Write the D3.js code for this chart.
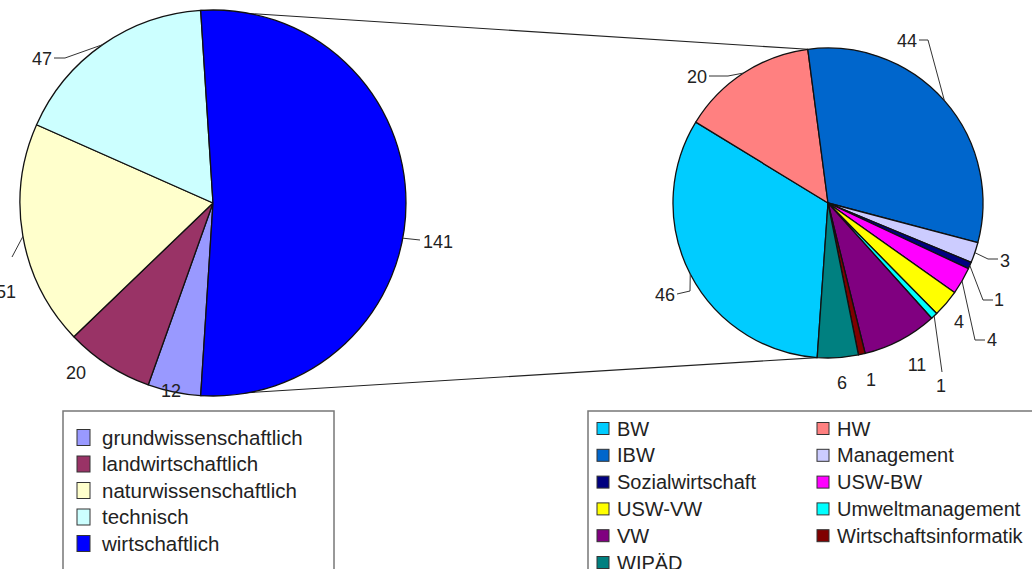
<!DOCTYPE html>
<html>
<head>
<meta charset="utf-8">
<script src="https://cdn.jsdelivr.net/npm/d3@7/dist/d3.min.js"></script>
<style>
body{margin:0;background:#fff;}
text{font-family:Arial,"Liberation Sans",sans-serif;fill:#222;}
</style>
</head>
<body>
<svg id="chart"></svg>
<script>
// first pie
var mainCategories = ["grundwissenschaftlich","landwirtschaftlich","naturwissenschaftlich","technisch","wirtschaftlich"]
var mainValues = [12,20,51,47,141]
var mainColors = ["#9999ff","#993366","#ffffcc","#ccffff","#0000ff"]

// second pie, wirtschaftlich split up
var subCategories = ["BW","HW","IBW","Management","Sozialwirtschaft","USW-BW","USW-VW","Umweltmanagement","VW","Wirtschaftsinformatik","WIPÄD"]
var subValues = [46,20,44,3,1,4,4,1,11,1,6]
var subColors = ["#00ccff","#ff8080","#0066cc","#ccccff","#000080","#ff00ff","#ffff00","#00ffff","#800080","#800000","#008080"]

var screen = {width:1032,height:569}
var deg = Math.PI/180

// where the two pies sit
var mainPie = {cx:213,cy:203,r:193}
var subPie = {cx:828,cy:203,r:155}

// label placement, relative to pie centre (lead = leader line points)
var mainLabelPos = [
    {x:-42,y:188,anchor:"middle"},
    {x:-137,y:170,anchor:"middle"},
    {x:-197,y:89,anchor:"end",lead:[[-201,54]]},
    {x:-161,y:-144,anchor:"end",lead:[[-148,-145],[-159,-145]]},
    {x:210,y:39,anchor:"start",at:100.5,lead:[[207,37]]}
]
var subLabelPos = [
    {x:-153,y:92,anchor:"end",lead:[[-138,88],[-151,91]]},
    {x:-121,y:-126,anchor:"end",lead:[[-100,-127],[-119,-127]]},
    {x:89,y:-162,anchor:"end",lead:[[100,-163],[91,-163]]},
    {x:172,y:58,anchor:"start",lead:[[160,56],[170,56]]},
    {x:171,y:97,anchor:"middle",lead:[[155,97],[165,97]]},
    {x:164,y:137,anchor:"middle",lead:[[147,137],[157,137]]},
    {x:131,y:119,anchor:"middle"},
    {x:113,y:183,anchor:"middle",lead:[[114,169]]},
    {x:89,y:162,anchor:"middle"},
    {x:43,y:177,anchor:"middle"},
    {x:14,y:180,anchor:"middle"}
]

var svg = d3.select("#chart")
    .attr("width",screen.width)
    .attr("height",screen.height)

var polar = function(p,a,r){
    return [p.cx+Math.sin(a)*r, p.cy-Math.cos(a)*r]
}

// the split slice is centred on the right side of the first pie
var wirtShare = mainValues[4]/d3.sum(mainValues)
var mainStart = Math.PI/2 + wirtShare*Math.PI
var mainArcs = d3.pie().sort(null)
    .startAngle(mainStart).endAngle(mainStart+2*Math.PI)(mainValues)

var subStart = 184*deg
var subArcs = d3.pie().sort(null)
    .startAngle(subStart).endAngle(subStart+2*Math.PI)(subValues)

var mainColor = d3.scaleOrdinal().domain(mainCategories).range(mainColors)
var subColor = d3.scaleOrdinal().domain(subCategories).range(subColors)

//connector lines between the pies
var connectors = [
    [polar(mainPie,mainArcs[4].startAngle,mainPie.r), polar(subPie,subArcs[2].startAngle,subPie.r)],
    [polar(mainPie,mainArcs[4].endAngle,mainPie.r), polar(subPie,subArcs[0].startAngle,subPie.r)]
]
svg.append("g").selectAll("line")
    .data(connectors)
    .enter()
    .append("line")
    .attr("x1",function(d){return d[0][0]})
    .attr("y1",function(d){return d[0][1]})
    .attr("x2",function(d){return d[1][0]})
    .attr("y2",function(d){return d[1][1]})
    .attr("stroke","#222")
    .attr("stroke-width",1.1)

var drawPie = function(p,arcs,cats,color,labelPos){
    var arc = d3.arc().innerRadius(0).outerRadius(p.r)
    var g = svg.append("g")
        .attr("transform","translate("+p.cx+","+p.cy+")")

    g.selectAll("path")
        .data(arcs)
        .enter()
        .append("path")
        .attr("d",arc)
        .attr("fill",function(d,i){return color(cats[i])})
        .attr("stroke","#111")
        .attr("stroke-width",1.3)
        .attr("stroke-linejoin","round")

    // leader lines
    var leaders = g.append("g")
    arcs.forEach(function(d,i){
        var lp = labelPos[i]
        if(!lp.lead) return
        var a = lp.at!=null ? lp.at*deg : (d.startAngle+d.endAngle)/2
        var pts = [[Math.sin(a)*p.r, -Math.cos(a)*p.r]].concat(lp.lead)
        leaders.append("path")
            .attr("d",d3.line()(pts))
            .attr("fill","none")
            .attr("stroke","#333")
            .attr("stroke-width",1)
    })

    g.selectAll("text")
        .data(arcs)
        .enter()
        .append("text")
        .text(function(d){return d.data})
        .attr("x",function(d,i){return labelPos[i].x})
        .attr("y",function(d,i){return labelPos[i].y})
        .attr("dy","0.36em")
        .attr("text-anchor",function(d,i){return labelPos[i].anchor})
        .style("font-size","18px")
}

drawPie(mainPie,mainArcs,mainCategories,mainColor,mainLabelPos)
drawPie(subPie,subArcs,subCategories,subColor,subLabelPos)

// legend for first pie
var drawMainLegend = function(){
    var legend = svg.append("g").classed("legend",true)
    legend.append("rect")
        .attr("x",63).attr("y",411)
        .attr("width",271).attr("height",180)
        .attr("fill","#fff")
        .attr("stroke","#777")
        .attr("stroke-width",1.5)
    var yScale = d3.scaleLinear().domain([0,1]).range([437.5,464])
    var entries = legend.selectAll("g.entry")
        .data(mainCategories)
        .enter()
        .append("g")
        .classed("entry",true)
        .attr("transform",function(d,i){return "translate(0,"+yScale(i)+")"})
    entries.append("rect")
        .attr("x",77).attr("y",-8)
        .attr("width",13).attr("height",16)
        .attr("fill",function(d){return mainColor(d)})
        .attr("stroke","#333")
    entries.append("text")
        .text(function(d){return d})
        .attr("x",102).attr("y",7)
        .style("font-size","20.5px")
}

// legend for second pie, two columns
var drawSubLegend = function(){
    var legend = svg.append("g").classed("legend",true)
    legend.append("rect")
        .attr("x",588).attr("y",411)
        .attr("width",480).attr("height",180)
        .attr("fill","#fff")
        .attr("stroke","#777")
        .attr("stroke-width",1.5)
    var xScale = d3.scaleLinear().domain([0,1]).range([0,220])
    var yScale = d3.scaleLinear().domain([0,1]).range([428.5,455.3])
    var entries = legend.selectAll("g.entry")
        .data(subCategories)
        .enter()
        .append("g")
        .classed("entry",true)
        .attr("transform",function(d,i){
            return "translate("+xScale(i%2)+","+yScale(Math.floor(i/2))+")"
        })
    entries.append("rect")
        .attr("x",597).attr("y",-6)
        .attr("width",12).attr("height",12)
        .attr("fill",function(d){return subColor(d)})
        .attr("stroke","#333")
    entries.append("text")
        .text(function(d){return d})
        .attr("x",617).attr("y",7)
        .style("font-size","20px")
}

drawMainLegend()
drawSubLegend()
</script>
</body>
</html>
